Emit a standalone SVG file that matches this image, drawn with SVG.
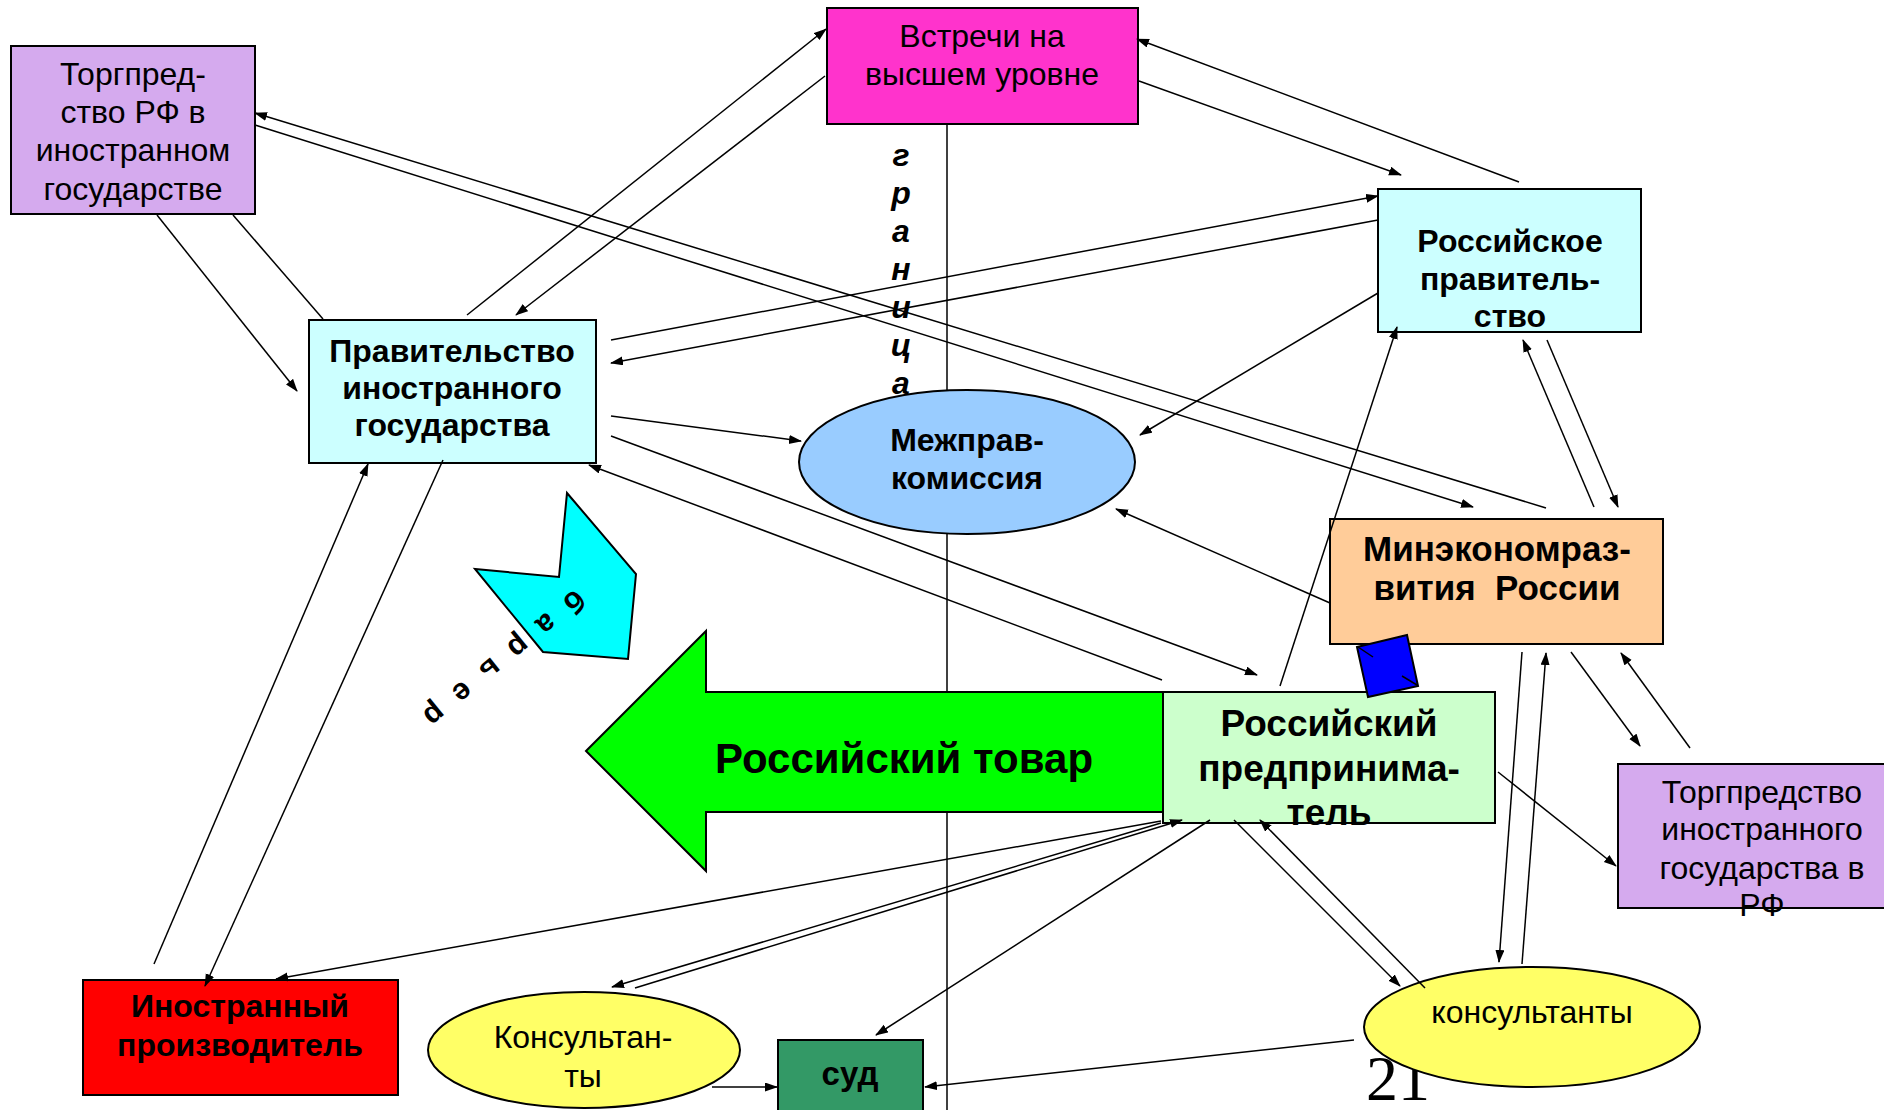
<svg xmlns="http://www.w3.org/2000/svg" width="1884" height="1110" viewBox="0 0 1884 1110">
<style>
.box{stroke:#000;stroke-width:2}
.t{font-family:"Liberation Sans",Arial,sans-serif;text-anchor:middle;fill:#000;font-size:32px}
.b{font-weight:bold}
.c line{stroke:#000;stroke-width:1.5}
.c line.a{marker-end:url(#ah)}
</style>
<defs>
<marker id="ah" markerUnits="userSpaceOnUse" markerWidth="14" markerHeight="10" refX="12" refY="4.5" orient="auto">
<path d="M0,0 L13,4.5 L0,9 z" fill="#000"/>
</marker>
</defs>
<rect width="1884" height="1110" fill="#fff"/>
<g id="border">
<line x1="947" y1="124" x2="947" y2="1110" stroke="#000" stroke-width="1.5"/>
</g>
<g id="vstrechi">
<rect class="box" x="827" y="8" width="311" height="116" fill="#FF33CC"/>
<text class="t" x="982" y="47">Встречи на</text>
<text class="t" x="982" y="85">высшем уровне</text>
</g>
<g id="torgpred-rf">
<rect class="box" x="11" y="46" width="244" height="168" fill="#D5AAEE"/>
<text class="t" x="133" y="85">Торгпред-</text>
<text class="t" x="133" y="123">ство РФ в</text>
<text class="t" x="133" y="161">иностранном</text>
<text class="t" x="133" y="200">государстве</text>
</g>
<g id="prav-in">
<rect class="box" x="309" y="320" width="287" height="143" fill="#CCFFFF"/>
<text class="t b" x="452" y="362">Правительство</text>
<text class="t b" x="452" y="399">иностранного</text>
<text class="t b" x="452" y="436">государства</text>
</g>
<g id="ros-prav">
<rect class="box" x="1378" y="189" width="263" height="143" fill="#CCFFFF"/>
<text class="t b" x="1510" y="252">Российское</text>
<text class="t b" x="1510" y="290">правитель-</text>
<text class="t b" x="1510" y="327">ство</text>
</g>
<g id="mezhprav">
<ellipse class="box" cx="967" cy="462" rx="168" ry="72" fill="#99CCFF"/>
<text class="t b" x="967" y="451">Межправ-</text>
<text class="t b" x="967" y="489">комиссия</text>
</g>
<g id="granica">
<text class="t b" style="font-style:italic;font-size:32px" x="901" y="166">г<tspan x="901" dy="38">р</tspan><tspan x="901" dy="38">а</tspan><tspan x="901" dy="38">н</tspan><tspan x="901" dy="38">и</tspan><tspan x="901" dy="38">ц</tspan><tspan x="901" dy="38">а</tspan></text>
</g>
<g id="minekonom">
<rect class="box" x="1330" y="519" width="333" height="125" fill="#FFCC99"/>
<text class="t b" style="font-size:35px" x="1497" y="561">Минэкономраз-</text>
<text class="t b" style="font-size:35px" x="1497" y="600" xml:space="preserve">вития  России</text>
</g>
<g id="tovar">
<polygon class="box" points="586,751 706,631 706,692 1163,692 1163,812 706,812 706,871" fill="#00FF00"/>
<text class="t b" style="font-size:42px" x="904" y="773">Российский товар</text>
</g>
<g id="barrier">
<polygon class="box" points="567,493 636,574 628,659 543,652 475,569 559,577" fill="#00FFFF"/>
<text class="t b" style="font-size:30px" transform="translate(574,601) rotate(141)" x="0 36 72 108 144 180" y="9">барьер</text>
</g>
<g id="predprin">
<rect class="box" x="1163" y="692" width="332" height="131" fill="#CCFFCC"/>
<text class="t b" style="font-size:37px" x="1329" y="736">Российский</text>
<text class="t b" style="font-size:37px" x="1329" y="781">предпринима-</text>
<text class="t b" style="font-size:37px" x="1329" y="825">тель</text>
</g>
<g id="blue">
<polygon class="box" points="1357,647 1407,635 1418,686 1368,697" fill="#0000FF"/>
<line x1="1358" y1="647" x2="1373" y2="657" stroke="#000" stroke-width="1.5"/>
<line x1="1402" y1="676" x2="1417" y2="685" stroke="#000" stroke-width="1.5"/>
</g>
<g id="torgpred-in">
<rect class="box" x="1618" y="764" width="290" height="144" fill="#D5AAEE"/>
<text class="t" x="1762" y="803">Торгпредство</text>
<text class="t" x="1762" y="840">иностранного</text>
<text class="t" x="1762" y="879">государства в</text>
<text class="t" x="1762" y="916">РФ</text>
</g>
<g id="inostr-proizv">
<rect class="box" x="83" y="980" width="315" height="115" fill="#FF0000"/>
<text class="t b" x="240" y="1017">Иностранный</text>
<text class="t b" x="240" y="1056">производитель</text>
</g>
<g id="konsult-left">
<ellipse class="box" cx="584" cy="1050" rx="156" ry="58" fill="#FFFF66"/>
<text class="t" x="583" y="1048">Консультан-</text>
<text class="t" x="583" y="1087">ты</text>
</g>
<g id="sud">
<rect class="box" x="778" y="1040" width="145" height="80" fill="#339966"/>
<text class="t b" style="font-size:33px" x="850" y="1085">суд</text>
</g>
<g id="slide-num">
<text x="1366" y="1100" font-family="Liberation Serif,Times New Roman,serif" font-size="64" fill="#000">21</text>
</g>
<g id="konsult-right">
<ellipse class="box" cx="1532" cy="1027" rx="168" ry="60" fill="#FFFF66"/>
<text class="t" x="1532" y="1023">консультанты</text>
</g>
<g id="connectors" class="c">
<line class="a" x1="467" y1="315" x2="826" y2="29"/>
<line class="a" x1="825" y1="76" x2="516" y2="315"/>
<line class="a" x1="157" y1="215" x2="297" y2="391"/>
<line x1="233" y1="215" x2="323" y2="319"/>
<line class="a" x1="1546" y1="508" x2="255" y2="113"/>
<line class="a" x1="255" y1="125" x2="1473" y2="507"/>
<line class="a" x1="611" y1="340" x2="1378" y2="196"/>
<line class="a" x1="1378" y1="220" x2="611" y2="363"/>
<line class="a" x1="611" y1="416" x2="801" y2="441"/>
<line class="a" x1="611" y1="436" x2="1257" y2="675"/>
<line class="a" x1="1162" y1="680" x2="589" y2="465"/>
<line class="a" x1="1139" y1="81" x2="1401" y2="175"/>
<line class="a" x1="1519" y1="182" x2="1137" y2="39"/>
<line class="a" x1="1378" y1="293" x2="1140" y2="435"/>
<line class="a" x1="1330" y1="603" x2="1116" y2="509"/>
<line class="a" x1="1280" y1="686" x2="1397" y2="327"/>
<line class="a" x1="1594" y1="507" x2="1523" y2="340"/>
<line class="a" x1="1547" y1="340" x2="1618" y2="507"/>
<line class="a" x1="1522" y1="652" x2="1499" y2="962"/>
<line class="a" x1="1522" y1="964" x2="1546" y2="653"/>
<line class="a" x1="1571" y1="652" x2="1640" y2="746"/>
<line class="a" x1="1690" y1="748" x2="1621" y2="653"/>
<line class="a" x1="1498" y1="772" x2="1616" y2="866"/>
<line class="a" x1="1234" y1="820" x2="1400" y2="986"/>
<line class="a" x1="1425" y1="988" x2="1260" y2="820"/>
<line class="a" x1="1354" y1="1040" x2="925" y2="1087"/>
<line class="a" x1="1210" y1="820" x2="876" y2="1035"/>
<line class="a" x1="1161" y1="821" x2="276" y2="979"/>
<line class="a" x1="1161" y1="823" x2="612" y2="987"/>
<line class="a" x1="635" y1="988" x2="1182" y2="820"/>
<line class="a" x1="154" y1="964" x2="368" y2="464"/>
<line class="a" x1="443" y1="460" x2="205" y2="986"/>
<line class="a" x1="712" y1="1087" x2="777" y2="1087"/>
</g>
</svg>
